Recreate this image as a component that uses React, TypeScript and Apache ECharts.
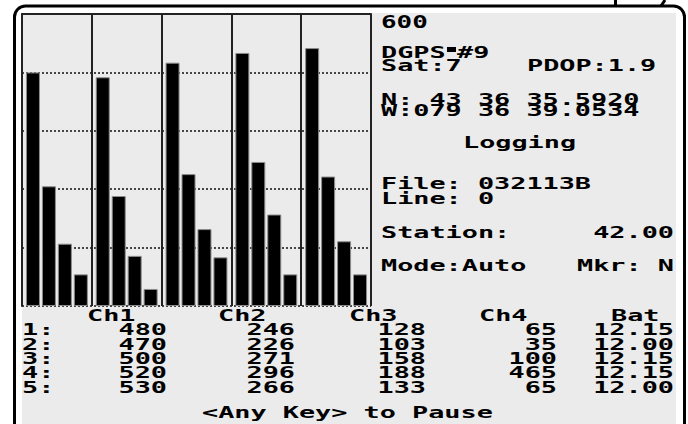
import React, { useEffect, useRef } from "react";
import * as echarts from "echarts";

// ---- data ----
const readings = ["1", "2", "3", "4", "5"];
const ch1 = [480, 470, 500, 520, 530];
const ch2 = [246, 226, 271, 296, 266];
const ch3 = [128, 103, 158, 188, 133];
const ch4 = [65, 35, 100, 465, 65];
// bar heights drawn for channel 4 (as shown on the screen graph)
const ch4Bar = [65, 35, 100, 65, 65];
const bat = ["12.15", "12.00", "12.15", "12.15", "12.00"];
const columnHeads = ["Ch1", "Ch2", "Ch3", "Ch4", "Bat"];
const yMax = 600;
const yInterval = 120;

const statusTop = "600";
const dgps = ["DGPS", "#9"];
const satText = "Sat:7";
const pdopText = "PDOP:1.9";
const northText = "N: 43 36 35.5920";
const westText = "W:079 36 39.0534";
const loggingText = "Logging";
const fileText = "File: 032113B";
const lineText = "Line: 0";
const stationLabel = "Station:";
const stationValue = "42.00";
const modeText = "Mode:Auto";
const markerText = "Mkr: N";
const footerText = "<Any Key> to Pause";

const FONT = 'bold 15px "DejaVu Sans Mono"';
const SX = 1.79;

function txt(text: string, x: number, y: number, align = "left", font = FONT, sx = SX) {
  return {
    type: "text",
    x,
    y,
    scaleX: sx,
    z: 10,
    style: {
      text,
      x: 0,
      y: 0,
      font,
      fill: "#000",
      textAlign: align,
      textVerticalAlign: "middle",
    },
  };
}

export default function App() {
  const ref = useRef<HTMLDivElement>(null);
  useEffect(() => {
    if (!ref.current) return;
    const chart = echarts.init(ref.current, undefined, { renderer: "svg" });

    const graphics: any[] = [
      // outer case frame
      {
        type: "rect",
        z: -5,
        shape: { x: 14.5, y: 6, width: 670, height: 450, r: 11 },
        style: { fill: "#ffffff", stroke: "#000", lineWidth: 3 },
      },
      { type: "line", z: -4, shape: { x1: 615.5, y1: 0, x2: 615.5, y2: 6 }, style: { stroke: "#000", lineWidth: 3 } },
      { type: "line", z: -4, shape: { x1: 665, y1: 0, x2: 661, y2: 6 }, style: { stroke: "#000", lineWidth: 3 } },
      // screen
      {
        type: "rect",
        z: -3,
        shape: { x: 22, y: 13, width: 654, height: 420 },
        style: { fill: "#ebebeb" },
      },
      // status panel
      txt(statusTop, 381, 21.5, "left", 'bold 18px "DejaVu Sans Mono"', 1.44),
      txt(dgps[0], 381, 52.5),
      {
        type: "rect",
        z: 10,
        shape: { x: 447, y: 47, width: 9, height: 5 },
        style: { fill: "#000" },
      },
      txt(dgps[1], 457, 52.5),
      txt(satText, 381, 65.5),
      txt(pdopText, 527, 65.5),
      txt(northText, 381, 100),
      txt(westText, 381, 110.5),
      txt(loggingText, 463, 142.5),
      txt(fileText, 381, 184),
      txt(lineText, 381, 199),
      txt(stationLabel, 381, 232.5),
      txt(stationValue, 674, 232.5, "right"),
      txt(modeText, 381, 265.5),
      txt(markerText, 674, 265.5, "right"),
    ];

    // table
    const headX = [87, 218, 349, 479, 611];
    columnHeads.forEach((h, i) => graphics.push(txt(h, headX[i], 316)));
    const rowY = [330, 344.5, 359, 373, 387.5];
    const colRight = [167, 295, 426, 557, 674];
    readings.forEach((r, i) => {
      graphics.push(txt(r + ":", 22, rowY[i]));
      graphics.push(txt(String(ch1[i]), colRight[0], rowY[i], "right"));
      graphics.push(txt(String(ch2[i]), colRight[1], rowY[i], "right"));
      graphics.push(txt(String(ch3[i]), colRight[2], rowY[i], "right"));
      graphics.push(txt(String(ch4[i]), colRight[3], rowY[i], "right"));
      graphics.push(txt(bat[i], colRight[4], rowY[i], "right"));
    });
    graphics.push(txt(footerText, 202, 413));

    const barStyle = { color: "#000", borderColor: "#8c8c8c", borderWidth: 1 };
    const mk = (name: string, data: number[]) => ({
      name,
      type: "bar",
      data,
      barWidth: 14,
      barGap: "14%",
      itemStyle: barStyle,
      z: 3,
    });

    chart.setOption({
      animation: false,
      backgroundColor: "#ffffff",
      grid: { left: 22, right: 317, top: 14, bottom: 118 },
      xAxis: [
        {
          type: "category",
          data: readings,
          position: "bottom",
          axisLine: { show: false },
          axisTick: { show: false },
          axisLabel: { show: false },
          splitLine: { show: true, lineStyle: { color: "#222", width: 2 } },
        },
        {
          type: "category",
          data: readings,
          position: "top",
          axisLine: { show: true, lineStyle: { color: "#222", width: 2 } },
          axisTick: { show: false },
          axisLabel: { show: false },
          splitLine: { show: false },
        },
      ],
      yAxis: {
        type: "value",
        min: 0,
        max: yMax,
        interval: yInterval,
        axisLine: { show: true, lineStyle: { color: "#222", width: 2 } },
        axisTick: { show: false },
        axisLabel: { show: false },
        splitLine: { show: true, lineStyle: { color: "#111", width: 1.5, type: [2, 2] } },
      },
      series: [mk("Ch1", ch1), mk("Ch2", ch2), mk("Ch3", ch3), mk("Ch4", ch4Bar)],
      graphic: { elements: graphics },
    });
    return () => chart.dispose();
  }, []);
  return <div ref={ref} style={{ width: 688, height: 424, position: "absolute", left: 0, top: 0 }} />;
}
